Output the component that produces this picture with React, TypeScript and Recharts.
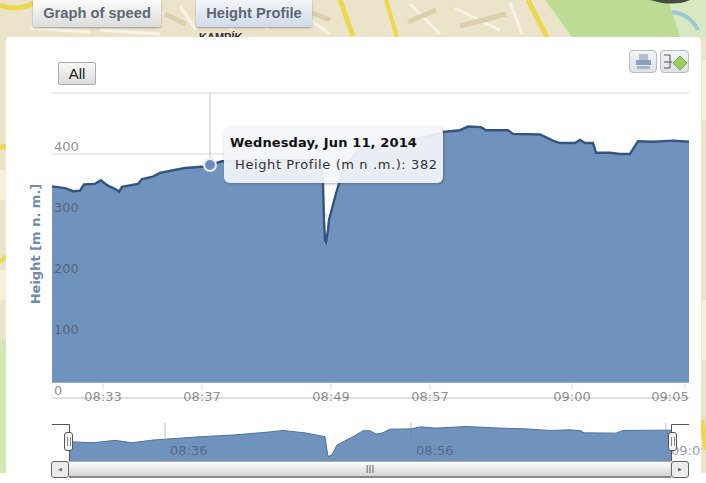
import { Area, AreaChart, CartesianGrid, ReferenceLine, Tooltip, XAxis, YAxis } from 'recharts';

// main chart, samples along the ordinal x axis
const samples = [0, 13, 21, 28, 32, 43, 49, 55, 65, 67, 70, 86, 90, 101, 108, 120, 133, 150, 158, 170, 218, 263, 269, 271, 272, 273, 274, 276, 277, 283, 287, 293, 308, 348, 378, 391, 408, 416, 429, 434, 456, 461, 488, 501, 508, 523, 528, 533, 541, 544, 558, 568, 578, 586, 601, 621, 637];
const heights = [347, 344, 339, 340, 350, 351, 357, 349, 341, 338, 346, 351, 359, 363, 369, 373, 377, 379, 382, 388, 390, 390, 387, 352, 292, 259, 256, 275, 292, 329, 352, 382, 407, 418, 430, 436, 439, 445, 444, 439, 439, 433, 432, 422, 418, 418, 423, 418, 418, 402, 402, 400, 400, 421, 420, 422, 420];
const heightTicks = [0, 100, 200, 300, 400, 500];
const timeTicks = [51, 150, 279, 378, 520, 633];
const timeLabels = ['08:33', '08:37', '08:49', '08:57', '09:00', '09:05'];

// navigator series
const navSamples = [0, 23, 45, 62, 83, 130, 163, 197, 213, 237, 255, 258, 262, 267, 283, 293, 300, 306, 313, 320, 341, 351, 366, 396, 430, 456, 480, 500, 511, 514, 546, 553, 601];
const navHeights = [352, 346, 361, 346, 363, 384, 395, 413, 424, 407, 384, 258, 269, 332, 384, 422, 422, 401, 409, 432, 434, 447, 439, 449, 439, 434, 424, 428, 422, 409, 407, 424, 426];
const navTicks = [95, 341, 596];
const navLabels = ['08:36', '08:56', '09:04'];

const activeSample = 158;
const tooltipDate = 'Wednesday, Jun 11, 2014';
const seriesName = 'Height Profile (m n .m.)';

const mainData = samples.map((sample, i) => ({ sample, height: heights[i] }));
const navData = navSamples.map((sample, i) => ({ sample, height: navHeights[i] }));

const sans = '"DejaVu Sans", sans-serif';
const arial = '"Liberation Sans", Arial, sans-serif';
const tickColor = 'rgba(70,70,70,0.62)';

function HeightTick({ y, payload }: any) {
  if (payload.value === 500) return null;
  return (
    <text x={54} y={y - 3} fontFamily={sans} fontSize={13} fill={tickColor}>
      {payload.value}
    </text>
  );
}

function TimeTick({ x, payload }: any) {
  const label = timeLabels[timeTicks.indexOf(payload.value)];
  return (
    <g>
      <line x1={x} x2={x} y1={383} y2={390} stroke="#dcdcdc" />
      <text x={Math.min(x, 670)} y={401} textAnchor="middle" fontFamily={sans} fontSize={13} fill={tickColor}>
        {label}
      </text>
    </g>
  );
}

function NavTick({ x, payload }: any) {
  const label = navLabels[navTicks.indexOf(payload.value)];
  return (
    <g>
      <line x1={x} x2={x} y1={3} y2={18} stroke="rgba(110,125,150,0.5)" />
      <text x={x + 5} y={35} fontFamily={sans} fontSize={13} fill="rgba(60,70,85,0.55)">
        {label}
      </text>
    </g>
  );
}

function HeightTooltip({ payload }: any) {
  if (!payload || !payload.length) return null;
  return (
    <div
      style={{
        width: 219,
        height: 56,
        boxSizing: 'border-box',
        background: 'rgba(243,245,249,0.92)',
        borderRadius: 6,
        boxShadow: '1px 1px 3px rgba(60,70,90,0.45)',
        fontFamily: sans,
        fontSize: 13,
        color: '#222',
        paddingLeft: 6,
        paddingTop: 8,
        whiteSpace: 'nowrap',
      }}
    >
      <div style={{ fontWeight: 'bold', color: '#111', lineHeight: '16px', letterSpacing: 0.13 }}>{tooltipDate}</div>
      <div style={{ marginLeft: 5, marginTop: 6, lineHeight: '16px', color: '#333', letterSpacing: 0.6 }}>
        {seriesName}: {payload[0].value}
      </div>
    </div>
  );
}

function MapBackground() {
  return (
    <svg width={706} height={473} style={{ position: 'absolute', left: 0, top: 0 }}>
      <rect width={706} height={473} fill="#ece3cb" />
      <path d="M0 340 H6 V473 H0 Z" fill="#d5e6b4" />
      <path d="M0 170 H6 V200 H0 Z M0 270 H6 V300 H0 Z" fill="#f4f0dc" />
      <path d="M702 60 H706 V120 H702 Z M702 300 H706 V360 H702 Z" fill="#f4f0dc" />
      <path d="M180 6 L196 30 M212 4 L236 34 M256 2 L268 30 M290 6 L330 34 M30 28 L90 32 M100 30 L160 34 M410 4 L440 34 M455 8 L500 30 M510 2 L522 34" stroke="#f7f3e6" strokeWidth={3} fill="none" />
      <path d="M165 14 L186 24 M244 12 L284 22 M300 8 L330 20 M408 22 L436 10 M460 26 L506 14" stroke="#dccfae" strokeWidth={5} fill="none" />
      <path d="M545 0 H690 L680 37 H572 Z" fill="#bcdc94" />
      <path d="M668 0 H706 V37 H680 Z" fill="#d8e8c0" />
      <path d="M672 12 Q690 14 698 30" stroke="#9cc7d8" strokeWidth={4} fill="none" />
      <path d="M650 0 H690 Q680 5 662 3 Z" fill="#4a4a44" />
      <path d="M0 5 Q16 12 34 3" stroke="#ecd84c" strokeWidth={5} fill="none" />
      <path d="M340 0 L353 36" stroke="#ecd84c" strokeWidth={5} fill="none" />
      <path d="M386 0 L397 37" stroke="#ecd84c" strokeWidth={4} fill="none" />
      <path d="M528 0 L547 37" stroke="#ecd84c" strokeWidth={5} fill="none" />
      <path d="M0 148 L6 146" stroke="#ecd84c" strokeWidth={5} fill="none" />
      <path d="M0 262 L6 256" stroke="#ecd84c" strokeWidth={4} fill="none" />
      <path d="M702 420 L706 450" stroke="#ecd84c" strokeWidth={5} fill="none" />
      <text x={199} y={41} fontFamily={arial} fontWeight="bold" fontSize={11} fill="#333">
        KAMPÍK
      </text>
    </svg>
  );
}

function TabButton({ left, width, label, active }: { left: number; width: number; label: string; active?: boolean }) {
  return (
    <div
      style={{
        position: 'absolute',
        left,
        top: 0,
        width,
        height: 27,
        boxSizing: 'border-box',
        textAlign: 'center',
        fontFamily: arial,
        fontWeight: 'bold',
        fontSize: 14.7,
        lineHeight: '27px',
        color: '#5d6873',
        borderRadius: '0 0 3px 3px',
        boxShadow: '0 1px 2px rgba(80,80,80,0.5)',
        background: active
          ? 'linear-gradient(#f4f5f8, #cfdaec)'
          : 'linear-gradient(#fbfbfb, #dcdcdc)',
      }}
    >
      {label}
    </div>
  );
}

function ExportButtons() {
  const box = {
    position: 'absolute' as const,
    top: 50,
    height: 23,
    boxSizing: 'border-box' as const,
    border: '1px solid #bbb',
    borderRadius: 4,
    background: 'linear-gradient(#f2f4f6, #dde1e6)',
  };
  return (
    <>
      <div style={{ ...box, left: 629, width: 28 }}>
        <svg width={26} height={21}>
          <rect x={9} y={3} width={9} height={6} fill="#b4bfce" />
          <rect x={6} y={9} width={15} height={5} fill="#8ba0bd" />
          <rect x={7} y={15} width={13} height={3} fill="#a6b6cb" />
        </svg>
      </div>
      <div style={{ ...box, left: 660, width: 29 }}>
        <svg width={27} height={21}>
          <path d="M3 4 H9 M3 11 H11 M3 17 H9 M9 4 V17" stroke="#555" fill="none" />
          <path d="M19 5 L26 12 L19 19 L12 12 Z" fill="#9ccb62" stroke="#7aa84a" />
        </svg>
      </div>
    </>
  );
}

function NavigatorChrome() {
  const handle = {
    position: 'absolute' as const,
    top: 432,
    width: 9,
    height: 19,
    boxSizing: 'border-box' as const,
    background: '#f4f4f4',
    border: '1px solid #555',
    borderRadius: 3,
  };
  const grip = {
    position: 'absolute' as const,
    left: 2,
    top: 4,
    width: 1,
    height: 9,
    borderLeft: '1px solid #888',
    borderRight: '1px solid #888',
    paddingRight: 1,
  };
  const scrollButton = {
    position: 'absolute' as const,
    top: 461,
    width: 18,
    height: 17,
    boxSizing: 'border-box' as const,
    background: '#ececec',
    border: '1px solid #666',
    borderRadius: 3,
    color: '#666',
    fontSize: 5,
    lineHeight: '15px',
    textAlign: 'center' as const,
    fontFamily: sans,
  };
  return (
    <>
      <svg width={706} height={483} style={{ position: 'absolute', left: 0, top: 0, pointerEvents: 'none' }}>
        <path d="M52 424.5 H69.5 V461 M689 424.5 H671.5 V461" stroke="#555" fill="none" />
      </svg>
      <div style={{ ...handle, left: 64 }}>
        <div style={grip} />
      </div>
      <div style={{ ...handle, left: 668 }}>
        <div style={grip} />
      </div>
      <div
        style={{
          position: 'absolute',
          left: 69,
          top: 461,
          width: 602,
          height: 17,
          boxSizing: 'border-box',
          borderBottom: '2px solid #888',
          borderTop: '1px solid #aaa',
          background: 'linear-gradient(#fdfdfd, #d4d4d4)',
          textAlign: 'center',
          fontFamily: arial,
          fontSize: 10,
          lineHeight: '15px',
          color: '#666',
        }}
      >
        III
      </div>
      <div style={{ ...scrollButton, left: 51 }}>◀</div>
      <div style={{ ...scrollButton, left: 671 }}>▶</div>
    </>
  );
}

export default function App() {
  return (
    <div style={{ position: 'absolute', left: 0, top: 0, width: 706, height: 483, overflow: 'hidden', background: '#fff' }}>
      <MapBackground />
      <TabButton left={33} width={128} label="Graph of speed" />
      <TabButton left={196} width={116} label="Height Profile" active />
      <div
        style={{
          position: 'absolute',
          left: 6,
          top: 37,
          width: 695,
          height: 446,
          background: '#fff',
          borderRadius: '5px 5px 0 0',
        }}
      />

      <div style={{ position: 'absolute', left: 0, top: 0 }}>
        <AreaChart width={706} height={420} data={mainData} margin={{ top: 93, right: 17, bottom: 0, left: 0 }}>
          <CartesianGrid vertical={false} stroke="#d6d6d6" />
          <XAxis
            dataKey="sample"
            type="number"
            domain={[0, 637]}
            ticks={timeTicks}
            interval={0}
            height={22}
            tick={<TimeTick />}
            tickLine={false}
            axisLine={{ stroke: '#d6d6d6' }}
          />
          <YAxis
            domain={[0, 500]}
            ticks={heightTicks}
            interval={0}
            width={52}
            tick={<HeightTick />}
            tickLine={false}
            axisLine={false}
          />
          <ReferenceLine
            segment={[
              { x: activeSample, y: 382 },
              { x: activeSample, y: 500 },
            ]}
            stroke="#c4c4c4"
          />
          <Area
            dataKey="height"
            type="linear"
            baseValue={25}
            fill="#7093bd"
            fillOpacity={1}
            stroke="#34557f"
            strokeWidth={2.4}
            dot={false}
            activeDot={{ r: 6, fill: '#6b8fbd', stroke: '#e6edf5', strokeWidth: 2 }}
            isAnimationActive={false}
          />
          <Tooltip
            defaultIndex={samples.indexOf(activeSample)}
            content={<HeightTooltip />}
            cursor={false}
            position={{ x: 224, y: 127 }}
            isAnimationActive={false}
            wrapperStyle={{ outline: 'none' }}
          />
        </AreaChart>
      </div>

      <div
        style={{
          position: 'absolute',
          left: 35,
          top: 244,
          transform: 'translate(-50%, -50%) rotate(-90deg)',
          fontFamily: sans,
          fontWeight: 'bold',
          fontSize: 13,
          color: '#6f8bab',
          whiteSpace: 'nowrap',
        }}
      >
        Height [m n. m.]
      </div>

      <div style={{ position: 'absolute', left: 0, top: 420 }}>
        <AreaChart width={701} height={42} data={navData} margin={{ top: 4, right: 30, bottom: 0, left: 70 }}>
          <XAxis
            dataKey="sample"
            type="number"
            domain={[0, 601]}
            ticks={navTicks}
            interval={0}
            height={1}
            tick={<NavTick />}
            tickLine={false}
            axisLine={false}
          />
          <YAxis hide domain={[230, 465]} />
          <Area
            dataKey="height"
            type="linear"
            fill="#7093bd"
            fillOpacity={1}
            stroke="#4f719e"
            strokeWidth={1}
            dot={false}
            activeDot={false}
            isAnimationActive={false}
          />
        </AreaChart>
      </div>

      <NavigatorChrome />

      <div
        style={{
          position: 'absolute',
          left: 58,
          top: 62,
          width: 38,
          height: 23,
          boxSizing: 'border-box',
          border: '1px solid #aaa',
          borderRadius: 2,
          background: 'linear-gradient(#f8f8f8, #dcdcdc)',
          textAlign: 'center',
          fontFamily: arial,
          fontSize: 15,
          lineHeight: '21px',
          color: '#222',
        }}
      >
        All
      </div>
      <ExportButtons />
    </div>
  );
}
